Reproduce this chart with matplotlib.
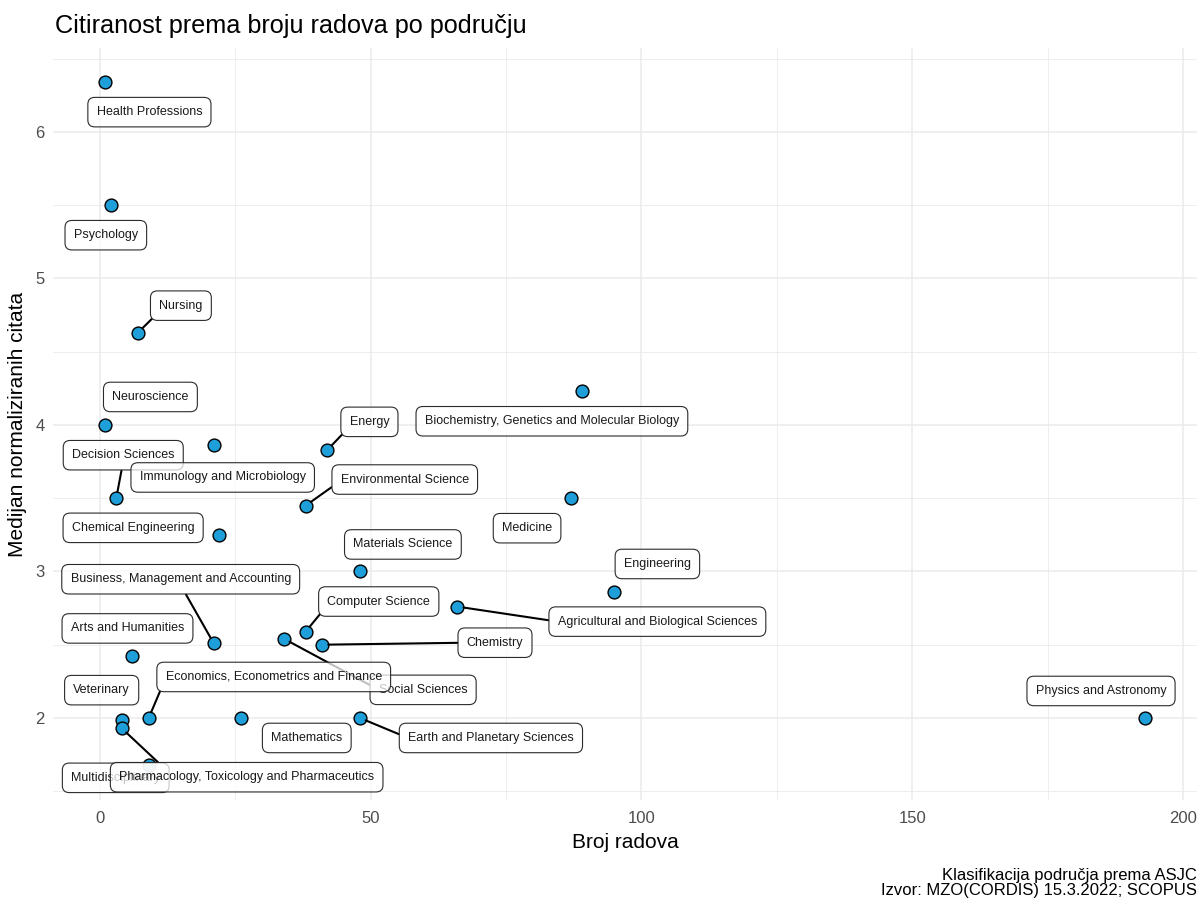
"""Citiranost prema broju radova po području (ASJC)."""

import matplotlib

matplotlib.use("Agg")
import matplotlib.pyplot as plt
from matplotlib.ticker import MultipleLocator

plt.rcParams["font.family"] = ["Liberation Sans", "DejaVu Sans"]

fields = [
    "Health Professions",
    "Psychology",
    "Nursing",
    "Neuroscience",
    "Biochemistry, Genetics and Molecular Biology",
    "Energy",
    "Decision Sciences",
    "Immunology and Microbiology",
    "Environmental Science",
    "Medicine",
    "Chemical Engineering",
    "Materials Science",
    "Engineering",
    "Business, Management and Accounting",
    "Computer Science",
    "Agricultural and Biological Sciences",
    "Arts and Humanities",
    "Chemistry",
    "Social Sciences",
    "Veterinary",
    "Economics, Econometrics and Finance",
    "Physics and Astronomy",
    "Mathematics",
    "Earth and Planetary Sciences",
    "Multidisciplinary",
    "Pharmacology, Toxicology and Pharmaceutics",
]
n_papers = [1, 2, 7, 1, 89, 42, 3, 21, 38, 87, 22, 48, 95, 21, 38, 66, 6, 41, 34, 4, 9, 193, 26, 48, 9, 4]
median_citations = [
    6.34, 5.50, 4.63, 4.00, 4.23, 3.83, 3.50, 3.86, 3.45, 3.50, 3.25, 3.00, 2.86,
    2.51, 2.59, 2.76, 2.42, 2.50, 2.54, 1.985, 2.00, 2.00, 2.00, 2.00, 1.68, 1.93,
]

x_ticks = [0, 50, 100, 150, 200]
y_ticks = [2, 3, 4, 5, 6]

# repel-style label placement: pixel offset of the label centre from its point
label_offsets = {
    "Health Professions": (44, -30),
    "Psychology": (-5, -30),
    "Nursing": (43, 27),
    "Neuroscience": (45, 28),
    "Biochemistry, Genetics and Molecular Biology": (-30, -30),
    "Energy": (42, 28),
    "Decision Sciences": (7, 43),
    "Immunology and Microbiology": (9, -32),
    "Environmental Science": (99, 26),
    "Medicine": (-44, -30),
    "Chemical Engineering": (-86, 7),
    "Materials Science": (43, 27),
    "Engineering": (43, 28),
    "Business, Management and Accounting": (-33, 64),
    "Computer Science": (73, 30),
    "Agricultural and Biological Sciences": (200, -15),
    "Arts and Humanities": (-5, 28),
    "Chemistry": (173, 2),
    "Social Sciences": (139, -51),
    "Veterinary": (-20, 30),
    "Economics, Econometrics and Finance": (125, 41),
    "Physics and Astronomy": (-44, 27),
    "Mathematics": (66, -20),
    "Earth and Planetary Sciences": (131, -20),
    "Multidisciplinary": (-33, -13),
    "Pharmacology, Toxicology and Pharmaceutics": (125, -49),
}
# where the leader line meets the label (fraction of the text box)
segment_anchor = {
    "Nursing": (0.0, 0.0),
    "Energy": (0.0, 0.1),
    "Decision Sciences": (0.5, 0.0),
    "Environmental Science": (0.0, 0.4),
    "Business, Management and Accounting": (0.5, 0.0),
    "Computer Science": (0.0, 0.2),
    "Agricultural and Biological Sciences": (0.0, 0.5),
    "Chemistry": (0.0, 0.5),
    "Social Sciences": (0.0, 0.5),
    "Economics, Econometrics and Finance": (0.0, 0.4),
    "Earth and Planetary Sciences": (0.0, 0.5),
    "Pharmacology, Toxicology and Pharmaceutics": (0.19, 1.0),
}

W, H = 1199, 898
fig = plt.figure(figsize=(W / 100, H / 100), dpi=100)
fig.patch.set_facecolor("white")
ax = fig.add_axes([53 / W, (H - 800) / H, 1144 / W, 752 / H])

ax.set_xlim(-8.68, 202.6)
ax.set_ylim(1.44, 6.573)
ax.xaxis.set_minor_locator(MultipleLocator(25))
ax.yaxis.set_minor_locator(MultipleLocator(0.5))
ax.set_xticks(x_ticks)
ax.set_yticks(y_ticks)
ax.grid(which="major", color="#EBEBEB", lw=1.1)
ax.grid(which="minor", color="#EBEBEB", lw=0.6)
ax.set_axisbelow(True)
for s in ax.spines.values():
    s.set_visible(False)
ax.tick_params(which="both", length=0, labelsize=12, labelcolor="#4D4D4D")
ax.tick_params(axis="x", pad=8)
ax.tick_params(axis="y", pad=6)

ax.scatter(n_papers, median_citations, s=85, color="#1F9FDA", edgecolor="black",
           linewidth=1.0, zorder=3)

for i, (name, xv, yv) in enumerate(zip(fields, n_papers, median_citations)):
    dx, dy = label_offsets[name]
    arrow = None
    if name in segment_anchor:
        arrow = dict(arrowstyle="-", color="black", lw=1.5, shrinkA=0, shrinkB=4.5,
                     relpos=segment_anchor[name])
    ax.annotate(
        name, (xv, yv), xytext=(dx, dy), textcoords="offset pixels",
        ha="center", va="center", fontsize=9, color="#1A1A1A",
        bbox=dict(boxstyle="round,pad=0.7,rounding_size=0.55",
                  facecolor=(1, 1, 1, 0.75), edgecolor="#2B2B2B", lw=0.8),
        arrowprops=arrow, zorder=4 + i * 0.01,
    )

fig.text(55 / W, 1 - 33 / H, "Citiranost prema broju radova po području",
         fontsize=18.2, ha="left", va="baseline")
fig.text(625 / W, 1 - 843 / H, "Broj radova", fontsize=15, ha="center", va="center")
fig.text(18 / W, 1 - 424 / H, "Medijan normaliziranih citata", fontsize=15,
         ha="center", va="center", rotation=90)
fig.text(1197 / W, 1 - 880 / H, "Klasifikacija područja prema ASJC",
         fontsize=12, ha="right", va="baseline")
fig.text(1197 / W, 1 - 895 / H, "Izvor: MZO(CORDIS) 15.3.2022; SCOPUS",
         fontsize=12, ha="right", va="baseline")

fig.savefig("out.png", dpi=100, facecolor="white")
plt.close(fig)
